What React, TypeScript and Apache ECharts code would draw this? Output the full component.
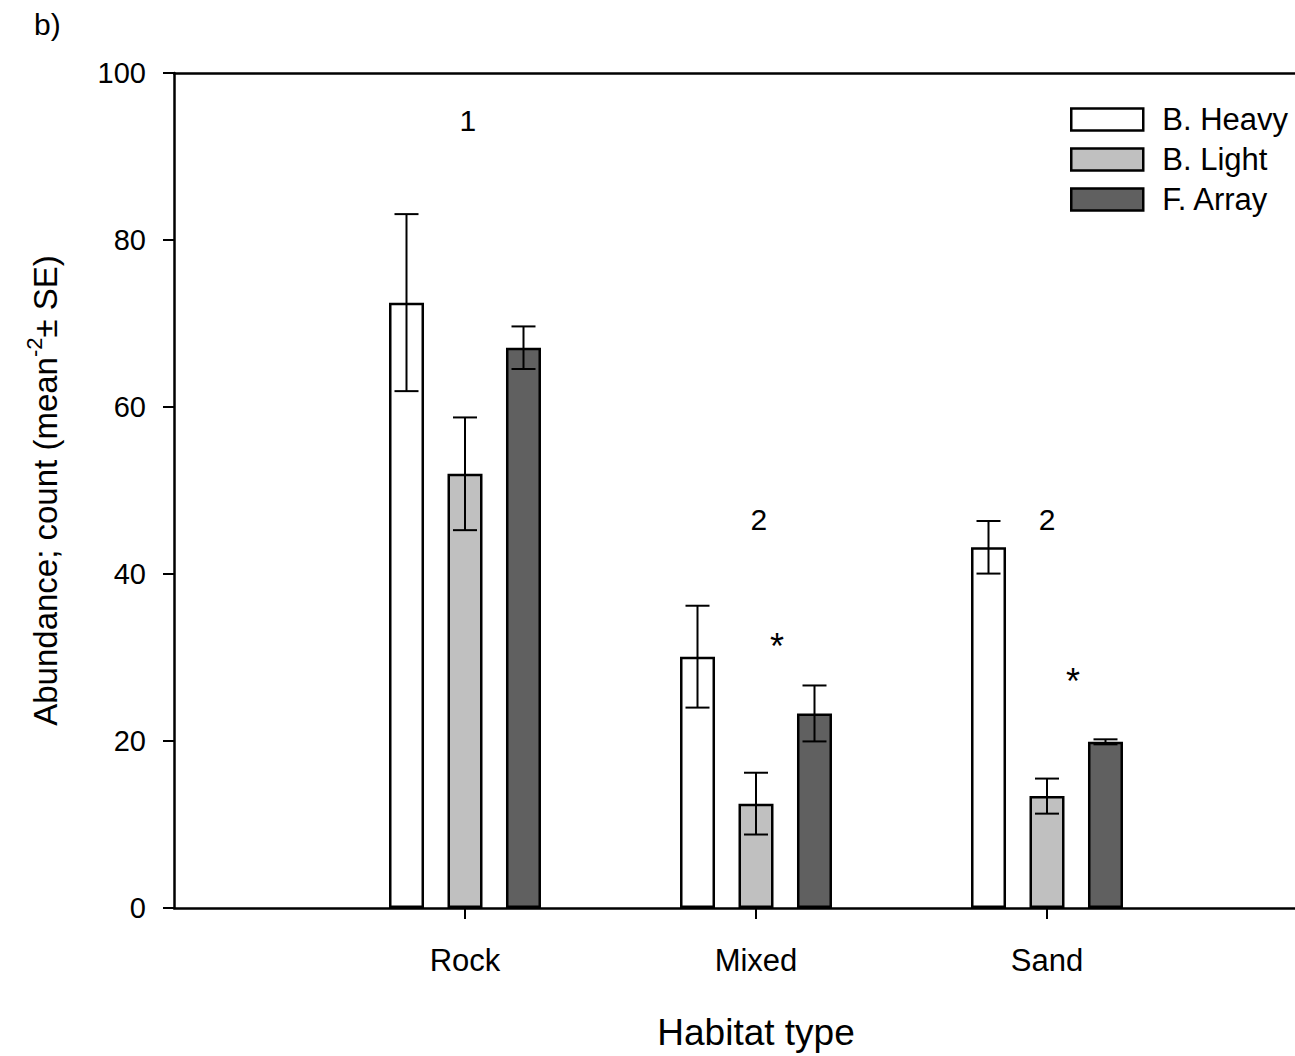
import React, { useEffect, useRef } from "react";
import * as echarts from "echarts";

const FONT = "'Liberation Sans', Arial, sans-serif";

const categories = ["Rock", "Mixed", "Sand"];
const seriesNames = ["B. Heavy", "B. Light", "F. Array"];
const seriesColors = ["#ffffff", "#c0c0c0", "#606060"];

const heavyMean = [72.5, 30.1, 43.2];
const heavySE = [10.6, 6.1, 3.15];
const lightMean = [52.0, 12.5, 13.4];
const lightSE = [6.75, 3.7, 2.1];
const arrayMean = [67.1, 23.3, 19.9];
const arraySE = [2.55, 3.35, 0.3];

const yTicks = [0, 20, 40, 60, 80, 100];

// annotation texts: [x position (category units), y value, text]
const annotations: [number, number, string][] = [
  [1.01, 94.3, "1"],
  [2.01, 46.5, "2"],
  [3.0, 46.5, "2"],
  [2.072, 31.3, "*"],
  [3.089, 27.1, "*"],
];

const means = [heavyMean, lightMean, arrayMean];
const ses = [heavySE, lightSE, arraySE];

const BAR_W = 35;
const BAR_GAP = 23.5;
const CAP_HALF = 12;

export default function App() {
  const ref = useRef<HTMLDivElement>(null);

  useEffect(() => {
    if (!ref.current) return;
    const chart = echarts.init(ref.current, null, { renderer: "svg" });

    const barSeries = seriesNames.map((name, k) => ({
      name,
      type: "bar",
      barWidth: BAR_W,
      barGap: `${((BAR_GAP / BAR_W) * 100).toFixed(1)}%`,
      itemStyle: {
        color: seriesColors[k],
        borderColor: "#000",
        borderWidth: 2.5,
      },
      data: categories.map((_, i) => [i + 1, means[k][i]]),
      z: 2,
    }));

    const errSeries = seriesNames.map((name, k) => ({
      name: name + " SE",
      type: "custom",
      z: 5,
      encode: { x: 0, y: 1 },
      data: categories.map((_, i) => [i + 1, means[k][i], ses[k][i]]),
      renderItem: (params: any, api: any) => {
        const x = api.value(0);
        const m = api.value(1);
        const se = api.value(2);
        const top = api.coord([x, m + se]);
        const bot = api.coord([x, m - se]);
        const cx = top[0] + (k - 1) * (BAR_W + BAR_GAP);
        const style = { stroke: "#000", lineWidth: 2 };
        return {
          type: "group",
          children: [
            { type: "line", shape: { x1: cx, y1: top[1], x2: cx, y2: bot[1] }, style },
            { type: "line", shape: { x1: cx - CAP_HALF, y1: top[1], x2: cx + CAP_HALF, y2: top[1] }, style },
            { type: "line", shape: { x1: cx - CAP_HALF, y1: bot[1], x2: cx + CAP_HALF, y2: bot[1] }, style },
          ],
        };
      },
    }));

    const annotationSeries = {
      name: "annotations",
      type: "custom",
      z: 6,
      encode: { x: 0, y: 1 },
      data: annotations,
      renderItem: (params: any, api: any) => {
        const a = annotations[params.dataIndex];
        const p = api.coord([a[0], a[1]]);
        const isStar = a[2] === "*";
        return {
          type: "text",
          x: p[0],
          y: p[1],
          style: {
            text: a[2],
            fontSize: isStar ? 36 : 30,
            fontFamily: FONT,
            fill: "#000",
            align: "center",
            verticalAlign: "middle",
          },
        };
      },
    };

    const option: any = {
      animation: false,
      backgroundColor: "#ffffff",
      textStyle: { fontFamily: FONT },
      grid: { left: 174, top: 73, right: 0, bottom: 143, containLabel: false },
      graphic: [
        {
          type: "text",
          left: 34,
          top: 9,
          style: { text: "b)", fontSize: 30, fill: "#000", fontFamily: FONT },
        },
      ],
      legend: {
        data: seriesNames,
        orient: "vertical",
        left: 1070,
        top: 104,
        padding: 0,
        icon: "rect",
        itemWidth: 72,
        itemHeight: 22,
        itemGap: 9,
        textStyle: {
          fontSize: 31,
          lineHeight: 29,
          color: "#000",
          fontFamily: FONT,
          padding: [0, 0, 0, 14],
        },
        itemStyle: { borderColor: "#000", borderWidth: 2.5 },
      },
      xAxis: [
        {
          type: "value",
          position: "bottom",
          min: 0,
          max: 4,
          interval: 1,
          axisLine: { show: true, onZero: false, lineStyle: { color: "#000", width: 2.5 } },
          axisTick: {
            show: true,
            customValues: [1, 2, 3],
            length: 11,
            lineStyle: { color: "#000", width: 2 },
          },
          axisLabel: {
            customValues: [1, 2, 3],
            formatter: (v: number) => categories[Math.round(v) - 1] || "",
            fontSize: 31,
            color: "#000",
            margin: 37,
            fontFamily: FONT,
          },
          splitLine: { show: false },
          name: "Habitat type",
          nameLocation: "middle",
          nameGap: 106,
          nameTextStyle: { fontSize: 37, color: "#000", fontFamily: FONT },
        },
        {
          type: "value",
          position: "top",
          min: 0,
          max: 4,
          interval: 1,
          axisLine: { show: true, onZero: false, lineStyle: { color: "#000", width: 2.5 } },
          axisTick: { show: false },
          axisLabel: { show: false },
          splitLine: { show: false },
        },
      ],
      yAxis: {
        type: "value",
        min: yTicks[0],
        max: yTicks[yTicks.length - 1],
        interval: yTicks[1] - yTicks[0],
        axisLine: { show: true, lineStyle: { color: "#000", width: 2.5 } },
        axisTick: { show: true, length: 11, lineStyle: { color: "#000", width: 2 } },
        axisLabel: { fontSize: 29, color: "#000", margin: 28, fontFamily: FONT },
        splitLine: { show: false },
        name: "{n|Abundance; count (mean}{s|-2}{n|± SE)}",
        nameLocation: "middle",
        nameGap: 107,
        nameTextStyle: {
          color: "#000",
          fontFamily: FONT,
          rich: {
            n: { fontSize: 33, lineHeight: 44, color: "#000", fontFamily: FONT },
            s: { fontSize: 22, lineHeight: 22, verticalAlign: "top", color: "#000", fontFamily: FONT },
          },
        },
      },
      series: [...barSeries, ...errSeries, annotationSeries],
    };

    chart.setOption(option);
    return () => chart.dispose();
  }, []);

  return (
    <div
      style={{ position: "absolute", left: 0, top: 0, width: 1295, height: 1056, overflow: "hidden" }}
    >
      <div ref={ref} style={{ width: 1338, height: 1056 }} />
    </div>
  );
}
